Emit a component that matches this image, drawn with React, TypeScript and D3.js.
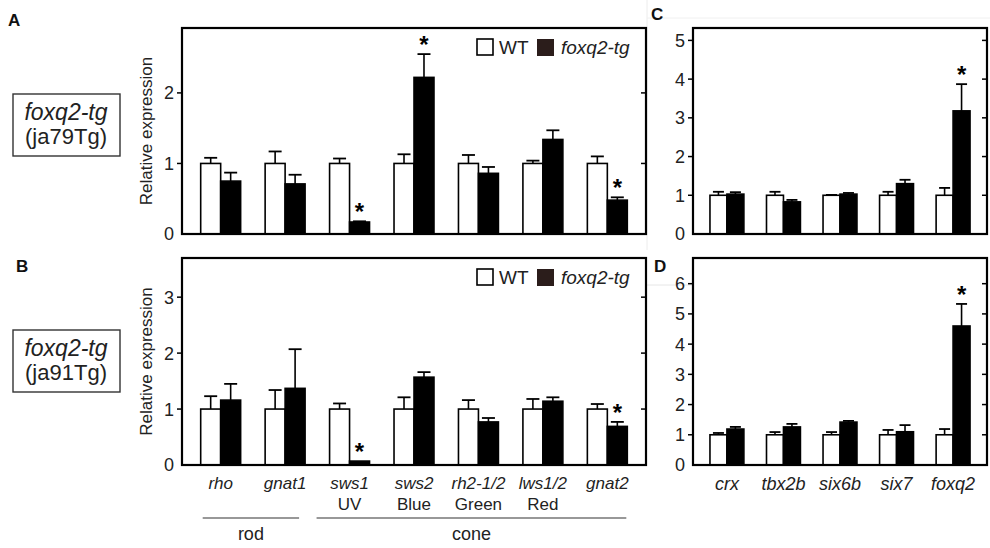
import React, { useEffect, useRef } from "react";
import * as d3 from "d3";

// photoreceptor genes (panels A, B)
const genesAB = ["rho", "gnat1", "sws1", "sws2", "rh2-1/2", "lws1/2", "gnat2"];
const subLabelsAB = ["", "", "UV", "Blue", "Green", "Red", ""];

// transcription factor genes (panels C, D)
const genesCD = ["crx", "tbx2b", "six6b", "six7", "foxq2"];

// panel A: ja79Tg
const wtA = [1, 1, 1, 1, 1, 1, 1];
const wtErrA = [0.08, 0.17, 0.07, 0.13, 0.12, 0.04, 0.1];
const tgA = [0.75, 0.71, 0.17, 2.22, 0.86, 1.34, 0.48];
const tgErrA = [0.12, 0.13, 0.01, 0.33, 0.09, 0.13, 0.04];
const sigA = [false, false, true, true, false, false, true];

// panel B: ja91Tg
const wtB = [1, 1, 1, 1, 1, 1, 1];
const wtErrB = [0.23, 0.34, 0.1, 0.21, 0.16, 0.18, 0.09];
const tgB = [1.16, 1.37, 0.07, 1.57, 0.77, 1.14, 0.69];
const tgErrB = [0.29, 0.7, 0, 0.09, 0.07, 0.07, 0.08];
const sigB = [false, false, true, false, false, false, true];

// panel C
const wtC = [1, 1, 1, 1, 1];
const wtErrC = [0.09, 0.09, 0.01, 0.09, 0.19];
const tgC = [1.03, 0.83, 1.03, 1.3, 3.18];
const tgErrC = [0.05, 0.05, 0.03, 0.1, 0.69];
const sigC = [false, false, false, false, true];

// panel D
const wtD = [1, 1, 1, 1, 1];
const wtErrD = [0.06, 0.09, 0.09, 0.16, 0.19];
const tgD = [1.19, 1.26, 1.42, 1.1, 4.6];
const tgErrD = [0.07, 0.1, 0.04, 0.22, 0.73];
const sigD = [false, false, false, false, true];

const ticksA = [0, 1, 2];
const ticksB = [0, 1, 2, 3];
const ticksC = [0, 1, 2, 3, 4, 5];
const ticksD = [0, 1, 2, 3, 4, 5, 6];

const FONT = "'Liberation Sans', Arial, sans-serif";

type PanelCfg = {
  x0: number; x1: number; y0: number; y1: number;
  yMax: number; ticks: number[];
  genes: string[];
  wt: number[]; wtErr: number[]; tg: number[]; tgErr: number[]; sig: boolean[];
  padInner: number; padOuter: number; cap: number;
  legend?: boolean; yTitle?: boolean;
};

function drawPanel(svg: any, c: PanelCfg) {
  const g = svg.append("g");
  const x = d3.scaleBand().domain(c.genes).range([c.x0, c.x1])
    .paddingInner(c.padInner).paddingOuter(c.padOuter);
  const sub = d3.scaleBand().domain(["wt", "tg"]).range([0, x.bandwidth()]);
  const y = d3.scaleLinear().domain([0, c.yMax]).range([c.y1, c.y0]);

  const rows = c.genes.map((gene, i) => ([
    { gene, key: "wt", v: c.wt[i], e: c.wtErr[i] },
    { gene, key: "tg", v: c.tg[i], e: c.tgErr[i] },
  ])).flat();

  // error bars (upper only)
  rows.forEach(d => {
    if (d.e <= 0.005) return;
    const cx = x(d.gene)! + sub(d.key)! + sub.bandwidth() / 2;
    g.append("line").attr("x1", cx).attr("x2", cx)
      .attr("y1", y(d.v)).attr("y2", y(d.v + d.e))
      .attr("stroke", "#000").attr("stroke-width", 1.6);
    g.append("line").attr("x1", cx - c.cap / 2).attr("x2", cx + c.cap / 2)
      .attr("y1", y(d.v + d.e)).attr("y2", y(d.v + d.e))
      .attr("stroke", "#000").attr("stroke-width", 1.8);
  });

  // bars
  g.selectAll(".bar").data(rows).join("rect")
    .attr("x", d => x(d.gene)! + sub(d.key)!)
    .attr("y", d => y(d.v))
    .attr("width", sub.bandwidth())
    .attr("height", d => c.y1 - y(d.v))
    .attr("fill", d => d.key === "wt" ? "#fff" : "#000")
    .attr("stroke", "#000").attr("stroke-width", 1.6);

  // significance stars
  c.genes.forEach((gene, i) => {
    if (!c.sig[i]) return;
    const cx = x(gene)! + sub("tg")! + sub.bandwidth() / 2;
    g.append("text").attr("x", cx).attr("y", y(c.tg[i] + c.tgErr[i]) - 1)
      .attr("text-anchor", "middle").attr("font-family", FONT)
      .attr("font-size", 24).attr("font-weight", "bold").text("*");
  });

  // frame
  g.append("rect").attr("x", c.x0).attr("y", c.y0)
    .attr("width", c.x1 - c.x0).attr("height", c.y1 - c.y0)
    .attr("fill", "none").attr("stroke", "#000").attr("stroke-width", 2.2);

  // ticks: left outward, right inward
  c.ticks.filter(t => t > 0).forEach(t => {
    g.append("line").attr("x1", c.x0 - 5).attr("x2", c.x0).attr("y1", y(t)).attr("y2", y(t))
      .attr("stroke", "#000").attr("stroke-width", 1.5);
    g.append("line").attr("x1", c.x1 - 5).attr("x2", c.x1).attr("y1", y(t)).attr("y2", y(t))
      .attr("stroke", "#000").attr("stroke-width", 1.5);
  });
  g.selectAll(".tl").data(c.ticks).join("text")
    .attr("x", c.x0 - 8).attr("y", d => y(d)).attr("dy", "0.36em")
    .attr("text-anchor", "end").attr("font-family", FONT).attr("font-size", 18)
    .attr("fill", "#222").text(d => d);

  if (c.yTitle) {
    g.append("text")
      .attr("transform", `translate(152, ${(c.y0 + c.y1) / 2}) rotate(-90)`)
      .attr("text-anchor", "middle").attr("font-family", FONT).attr("font-size", 17)
      .attr("fill", "#222").text("Relative expression");
  }

  if (c.legend) {
    const ly = c.y0 + 11;
    g.append("rect").attr("x", 477).attr("y", ly).attr("width", 16).attr("height", 16)
      .attr("fill", "#fff").attr("stroke", "#000").attr("stroke-width", 1.6);
    g.append("text").attr("x", 499).attr("y", ly + 15).attr("font-family", FONT)
      .attr("font-size", 19).attr("fill", "#222").text("WT");
    g.append("rect").attr("x", 537).attr("y", ly).attr("width", 17).attr("height", 17)
      .attr("fill", "#2b1d1b");
    g.append("text").attr("x", 561).attr("y", ly + 15).attr("font-family", FONT)
      .attr("font-size", 19).attr("font-style", "italic").attr("fill", "#222").text("foxq2-tg");
  }
  return x;
}

export default function App() {
  const ref = useRef<SVGSVGElement>(null);

  useEffect(() => {
    const svg = d3.select(ref.current);
    svg.selectAll("*").remove();

    // faint compositing seams of the original figure
    svg.append("line").attr("x1", 647).attr("x2", 647).attr("y1", 0).attr("y2", 250)
      .attr("stroke", "#ececec");
    svg.append("line").attr("x1", 647).attr("x2", 990).attr("y1", 18).attr("y2", 18)
      .attr("stroke", "#f0f0f0");
    svg.append("line").attr("x1", 647).attr("x2", 693).attr("y1", 285).attr("y2", 285)
      .attr("stroke", "#e6e6e6");

    const common = { padInner: 0.38, padOuter: 0.29, cap: 13, legend: true, yTitle: true, genes: genesAB };
    drawPanel(svg, { ...common, x0: 182, x1: 646, y0: 28, y1: 234, yMax: 2.92, ticks: ticksA,
      wt: wtA, wtErr: wtErrA, tg: tgA, tgErr: tgErrA, sig: sigA });
    const xB = drawPanel(svg, { ...common, x0: 182, x1: 646, y0: 258, y1: 465, yMax: 3.7, ticks: ticksB,
      wt: wtB, wtErr: wtErrB, tg: tgB, tgErr: tgErrB, sig: sigB });

    const commonCD = { padInner: 0.4, padOuter: 0.3, cap: 11, genes: genesCD };
    drawPanel(svg, { ...commonCD, x0: 693, x1: 987, y0: 28, y1: 234, yMax: 5.32, ticks: ticksC,
      wt: wtC, wtErr: wtErrC, tg: tgC, tgErr: tgErrC, sig: sigC });
    const xD = drawPanel(svg, { ...commonCD, x0: 693, x1: 987, y0: 258, y1: 465, yMax: 6.85, ticks: ticksD,
      wt: wtD, wtErr: wtErrD, tg: tgD, tgErr: tgErrD, sig: sigD });

    // x labels B
    genesAB.forEach((gene, i) => {
      const cx = xB(gene)! + xB.bandwidth() / 2;
      svg.append("text").attr("x", cx).attr("y", 489).attr("text-anchor", "middle")
        .attr("font-family", FONT).attr("font-size", 17).attr("font-style", "italic")
        .attr("fill", "#222").text(gene);
      if (subLabelsAB[i]) {
        svg.append("text").attr("x", cx).attr("y", 510).attr("text-anchor", "middle")
          .attr("font-family", FONT).attr("font-size", 17).attr("fill", "#222").text(subLabelsAB[i]);
      }
    });
    const groups = [
      { name: "rod", a: xB("rho")! + 2, b: xB("gnat1")! + xB.bandwidth() - 6 },
      { name: "cone", a: xB("sws1")! - 13, b: xB("gnat2")! + xB.bandwidth() - 1 },
    ];
    groups.forEach(gr => {
      svg.append("line").attr("x1", gr.a).attr("x2", gr.b).attr("y1", 518).attr("y2", 518)
        .attr("stroke", "#333").attr("stroke-width", 1.2);
      svg.append("text").attr("x", (gr.a + gr.b) / 2).attr("y", 540).attr("text-anchor", "middle")
        .attr("font-family", FONT).attr("font-size", 18).attr("fill", "#222").text(gr.name);
    });

    // x labels D
    genesCD.forEach(gene => {
      svg.append("text").attr("x", xD(gene)! + xD.bandwidth() / 2).attr("y", 490)
        .attr("text-anchor", "middle").attr("font-family", FONT).attr("font-size", 18)
        .attr("font-style", "italic").attr("fill", "#222").text(gene);
    });

    // line boxes on the left
    [{ y: 94, tag: "(ja79Tg)" }, { y: 330, tag: "(ja91Tg)" }].forEach(b => {
      svg.append("rect").attr("x", 13).attr("y", b.y).attr("width", 107).attr("height", 62)
        .attr("fill", "none").attr("stroke", "#333").attr("stroke-width", 1.4);
      svg.append("text").attr("x", 66).attr("y", b.y + 26).attr("text-anchor", "middle")
        .attr("font-family", FONT).attr("font-size", 23).attr("font-style", "italic")
        .attr("fill", "#222").text("foxq2-tg");
      svg.append("text").attr("x", 66).attr("y", b.y + 50).attr("text-anchor", "middle")
        .attr("font-family", FONT).attr("font-size", 22).attr("fill", "#222").text(b.tag);
    });

    // panel letters
    [{ t: "A", x: 8, y: 26 }, { t: "B", x: 16, y: 272 }, { t: "C", x: 651, y: 20 }, { t: "D", x: 654, y: 272 }]
      .forEach(l => {
        svg.append("text").attr("x", l.x).attr("y", l.y).attr("font-family", FONT)
          .attr("font-size", 17).attr("font-weight", "bold").attr("fill", "#111").text(l.t);
      });
  }, []);

  return (
    <svg ref={ref} width={990} height={548}
      style={{ position: "absolute", left: 0, top: 0, background: "#fff" }} />
  );
}
